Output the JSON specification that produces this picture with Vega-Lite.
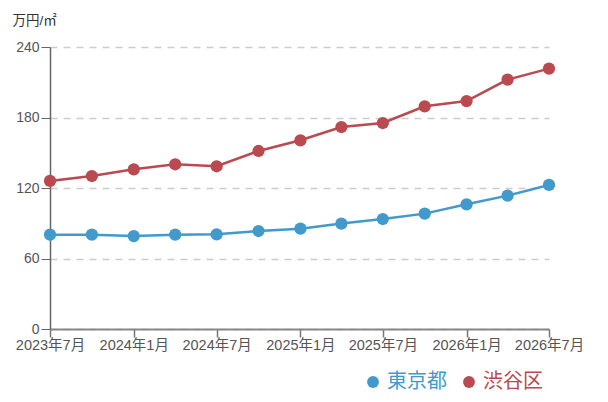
{
  "$schema": "https://vega.github.io/schema/vega-lite/v6.json",
  "autosize": {"type": "none"},
  "padding": {"left": 50, "top": 47, "right": 59, "bottom": 73},
  "width": 499,
  "height": 282,
  "background": "white",
  "config": {
    "view": {"stroke": "transparent"},
    "font": "Liberation Sans, Noto Sans CJK JP",
    "axis": {"labelFont": "Liberation Sans, Noto Sans CJK JP", "labelFontSize": 14, "labelColor": "#555"}
  },
  "data": {
    "values": [
      {"date": "2023/07/01", "area": "東京都", "price": 80.3},
      {"date": "2023/10/01", "area": "東京都", "price": 80.3},
      {"date": "2024/01/01", "area": "東京都", "price": 79.1},
      {"date": "2024/04/01", "area": "東京都", "price": 80.3},
      {"date": "2024/07/01", "area": "東京都", "price": 80.6},
      {"date": "2024/10/01", "area": "東京都", "price": 83.4},
      {"date": "2025/01/01", "area": "東京都", "price": 85.4},
      {"date": "2025/04/01", "area": "東京都", "price": 89.7},
      {"date": "2025/07/01", "area": "東京都", "price": 93.6},
      {"date": "2025/10/01", "area": "東京都", "price": 98.2},
      {"date": "2026/01/01", "area": "東京都", "price": 106.1},
      {"date": "2026/04/01", "area": "東京都", "price": 113.5},
      {"date": "2026/07/01", "area": "東京都", "price": 122.6},
      {"date": "2023/07/01", "area": "渋谷区", "price": 126.0},
      {"date": "2023/10/01", "area": "渋谷区", "price": 130.2},
      {"date": "2024/01/01", "area": "渋谷区", "price": 135.9},
      {"date": "2024/04/01", "area": "渋谷区", "price": 140.2},
      {"date": "2024/07/01", "area": "渋谷区", "price": 138.5},
      {"date": "2024/10/01", "area": "渋谷区", "price": 151.5},
      {"date": "2025/01/01", "area": "渋谷区", "price": 160.6},
      {"date": "2025/04/01", "area": "渋谷区", "price": 171.9},
      {"date": "2025/07/01", "area": "渋谷区", "price": 175.3},
      {"date": "2025/10/01", "area": "渋谷区", "price": 189.5},
      {"date": "2026/01/01", "area": "渋谷区", "price": 194.0},
      {"date": "2026/04/01", "area": "渋谷区", "price": 212.3},
      {"date": "2026/07/01", "area": "渋谷区", "price": 221.6}
    ]
  },
  "encoding": {
    "x": {
      "field": "date", "type": "temporal", "title": null,
      "scale": {"domain": [{"year": 2023, "month": 7, "date": 1}, {"year": 2026, "month": 7, "date": 1}], "nice": false},
      "axis": {
        "format": "%Y年%-m月",
        "values": [
          {"year": 2023, "month": 7, "date": 1}, {"year": 2024, "month": 1, "date": 1},
          {"year": 2024, "month": 7, "date": 1}, {"year": 2025, "month": 1, "date": 1},
          {"year": 2025, "month": 7, "date": 1}, {"year": 2026, "month": 1, "date": 1},
          {"year": 2026, "month": 7, "date": 1}
        ],
        "labelFlush": false, "labelOverlap": false, "grid": false, "labelFontSize": 14.5,
        "domainColor": "#888", "domainWidth": 2, "tickColor": "#777", "tickWidth": 1.5, "tickSize": 8, "labelPadding": 1
      }
    },
    "y": {
      "field": "price", "type": "quantitative",
      "scale": {"domain": [0, 240], "nice": false},
      "axis": {
        "values": [0, 60, 120, 180, 240], "title": "万円/㎡", "titleAngle": 0,
        "titleX": -38, "titleY": -27, "titleAlign": "left", "titleBaseline": "middle",
        "titleFontSize": 13.5, "titleFontWeight": "normal", "titleColor": "#333",
        "titleFont": "Liberation Sans, Noto Sans CJK JP",
        "domainColor": "#666", "domainWidth": 1.5, "tickColor": "#666", "tickSize": 9, "labelPadding": 2,
        "gridColor": "#ccc", "gridDash": [7, 6], "gridWidth": 1.5
      }
    },
    "color": {
      "field": "area", "type": "nominal",
      "scale": {"domain": ["東京都", "渋谷区"], "range": ["#429acc", "#bb4950"]},
      "legend": {
        "title": null, "orient": "none", "direction": "horizontal",
        "legendX": 313, "legendY": 325, "padding": 0,
        "symbolType": "circle", "symbolSize": 140, "symbolStrokeWidth": 0,
        "labelFontSize": 20, "labelFont": "Liberation Sans, Noto Sans CJK JP",
        "labelColor": {"expr": "datum.label == '東京都' ? '#429acc' : '#bb4950'"},
        "columnPadding": 12, "labelOffset": 4
      }
    }
  },
  "layer": [
    {"mark": {"type": "line", "strokeWidth": 2.5}},
    {"mark": {"type": "point", "filled": true, "size": 150, "opacity": 1}}
  ]
}
